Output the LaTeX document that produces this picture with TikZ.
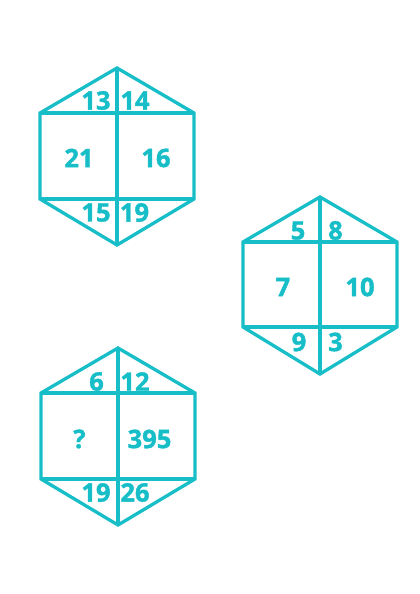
\documentclass[tikz,border=0pt]{standalone}
\usepackage{fontspec}
\newfontfamily\numfont{Open Sans Bold}[RawFeature={embolden=1.5}]
\definecolor{teal1}{RGB}{23,190,199}
\tikzset{
  hexline/.style={draw=teal1,line width=3.3pt,line join=miter},
  lbl/.style={text=teal1,font=\numfont\fontsize{25.5}{28}\selectfont,inner sep=0pt,anchor=center}
}
\begin{document}
\begin{tikzpicture}[x=1pt,y=-1pt]
\useasboundingbox (0,0) rectangle (420,594);
% hexagon 1
\coordinate (h1t) at (117,68);
\coordinate (h1ul) at (40,113);
\coordinate (h1ur) at (194,113);
\coordinate (h1ll) at (40,199);
\coordinate (h1lr) at (194,199);
\coordinate (h1b) at (117,245);
\draw[hexline] (h1t) -- (h1ur) -- (h1lr) -- (h1b) -- (h1ll) -- (h1ul) -- cycle;
\draw[hexline] (h1ul) -- (h1ur) (h1ll) -- (h1lr) (h1t) -- (h1b);
\node[lbl] (a1) at (96,100.5) {13};
\node[lbl] (a2) at (135,100.5) {14};
\node[lbl] (a3) at (79,158) {21};
\node[lbl] (a4) at (156,158) {16};
\node[lbl] (a5) at (96,212.5) {15};
\node[lbl] (a6) at (134.5,212.5) {19};
% hexagon 2
\coordinate (h2t) at (320,197);
\coordinate (h2ul) at (243,242);
\coordinate (h2ur) at (397,242);
\coordinate (h2ll) at (243,327);
\coordinate (h2lr) at (397,327);
\coordinate (h2b) at (320,374);
\draw[hexline] (h2t) -- (h2ur) -- (h2lr) -- (h2b) -- (h2ll) -- (h2ul) -- cycle;
\draw[hexline] (h2ul) -- (h2ur) (h2ll) -- (h2lr) (h2t) -- (h2b);
\node[lbl] (b1) at (298,230.5) {5};
\node[lbl] (b2) at (335.5,230.5) {8};
\node[lbl] (b3) at (283,287) {7};
\node[lbl] (b4) at (360,287) {10};
\node[lbl] (b5) at (299,342) {9};
\node[lbl] (b6) at (335.5,342) {3};
% hexagon 3
\coordinate (h3t) at (118,348);
\coordinate (h3ul) at (41,393);
\coordinate (h3ur) at (195,393);
\coordinate (h3ll) at (41,479);
\coordinate (h3lr) at (195,479);
\coordinate (h3b) at (118,525);
\draw[hexline] (h3t) -- (h3ur) -- (h3lr) -- (h3b) -- (h3ll) -- (h3ul) -- cycle;
\draw[hexline] (h3ul) -- (h3ur) (h3ll) -- (h3lr) (h3t) -- (h3b);
\node[lbl] (c1) at (96.5,381.5) {6};
\node[lbl] (c2) at (135,381.5) {12};
\node[lbl] (c3) at (79.5,439) {?};
\node[lbl] (c4) at (149.5,439) {395};
\node[lbl] (c5) at (96,492.5) {19};
\node[lbl] (c6) at (135,492.5) {26};
\end{tikzpicture}
\end{document}
